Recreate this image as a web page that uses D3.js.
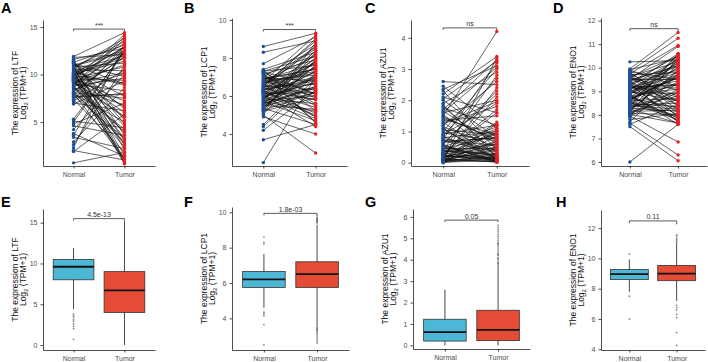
<!DOCTYPE html>
<html lang="en">
<head>
<meta charset="UTF-8">
<title>Paired and box plots</title>
<script src="https://d3js.org/d3.v7.min.js"></script>
<style>
  body { margin: 0; background: #fff; }
  svg { display: block; font-family: "Liberation Sans", Arial, sans-serif; }
  .axis path, .axis line { stroke: #222; stroke-width: 0.8; }
  .axis text { fill: #4d4d4d; font-size: 7px; }
  .ytitle { font-size: 8.5px; fill: #111; }
  .letter { font-size: 14.5px; font-weight: bold; fill: #000; }
</style>
</head>
<body>
<svg width="708" height="362"></svg>
<script>
// categories / labels
const groups = ["Normal", "Tumor"];
const genes = ["LTF", "LCP1", "AZU1", "ENO1"];
const pairSig = ["***", "***", "ns", "ns"];
const boxPval = ["4.5e-13", "1.8e-03", "0.05", "0.11"];
const letters = ["A", "B", "C", "D", "E", "F", "G", "H"];

// tick labels
const ticksLTF = [5, 10, 15];
const ticksLCP1 = [4, 6, 8, 10];
const ticksAZU1 = [0, 1, 2, 3, 4];
const ticksENO1 = [6, 7, 8, 9, 10, 11, 12];
const ticksLTFbox = [0, 5, 10, 15];
const ticksLCP1box = [4, 6, 8, 10];
const ticksAZU1box = [0, 1, 2, 3, 4, 5, 6];
const ticksENO1box = [4, 6, 8, 10, 12];

// paired samples (normal[i] <-> tumor[i])
const ltfNormal = [11.9, 11.6, 11.4, 11.3, 11.2, 11.1, 11.0, 10.9, 10.8, 10.8,
  10.7, 10.6, 10.5, 10.5, 10.4, 10.3, 10.2, 10.2, 10.1, 10.0,
  9.9, 9.9, 9.8, 9.7, 9.6, 9.6, 9.5, 9.4, 9.3, 9.2,
  9.2, 9.1, 9.0, 8.9, 8.8, 8.7, 8.6, 8.5, 8.4, 8.3,
  8.2, 8.1, 8.0, 7.9, 7.8, 7.6, 7.4, 7.2, 7.0, 6.9,
  5.3, 5.1, 4.8, 4.6, 4.2, 3.8, 3.6, 3.4, 2.9, 2.6,
  2.3, 2.0, 1.9, 0.7, 11.5, 10.9, 10.0, 9.5, 8.9, 8.1,
  11.8, 11.3, 10.7, 10.4, 10.1, 9.8, 9.7, 9.4, 9.1, 8.8,
  8.6, 8.3, 8.0, 7.7, 11.0, 10.6, 9.9, 9.3, 7.3, 5.0];
const ltfTumor = [14.4, 12.8, 5.2, 13.1, 2.1, 9.8, 12.5, 0.9, 11.2, 6.4,
  13.8, 3.0, 10.4, 7.7, 12.0, 1.5, 8.9, 11.7, 4.6, 13.3,
  2.7, 9.1, 12.9, 6.0, 0.6, 10.8, 7.2, 14.2, 3.9, 11.0,
  5.5, 12.2, 8.3, 1.2, 9.6, 4.2, 13.0, 6.8, 10.1, 2.4,
  11.9, 7.5, 5.0, 12.6, 3.3, 8.0, 1.8, 10.5, 6.2, 9.3,
  12.4, 4.4, 7.0, 3.6, 10.0, 1.4, 12.7, 2.2, 8.6, 10.9,
  13.2, 1.0, 5.8, 1.8, 3.6, 12.3, 0.8, 9.4, 14.0, 2.9,
  12.1, 4.8, 13.5, 0.7, 11.4, 6.6, 12.9, 2.6, 10.2, 13.7,
  4.0, 11.8, 1.1, 7.9, 9.0, 3.2, 12.0, 5.6, 13.0, 12.5];

const lcp1Normal = [8.6, 8.3, 7.7, 7.4, 7.35, 7.3, 7.2, 7.15, 7.1, 7.0,
  6.95, 6.9, 6.85, 6.8, 6.75, 6.7, 6.6, 6.55, 6.5, 6.45,
  6.4, 6.35, 6.3, 6.25, 6.2, 6.15, 6.1, 6.05, 6.0, 5.95,
  5.9, 5.85, 5.8, 5.75, 5.7, 5.65, 5.6, 5.55, 5.5, 5.45,
  5.4, 5.35, 5.3, 5.2, 5.1, 5.0, 4.9, 4.5, 4.4, 4.2,
  3.7, 2.5, 6.65, 6.35, 6.05, 5.75, 7.05, 6.85, 5.95, 6.5,
  7.25, 5.25, 6.2, 6.8, 5.6, 7.0, 6.4, 5.85, 6.1, 6.7,
  7.3, 7.1, 6.9, 6.75, 6.6, 6.45, 6.3, 6.15, 6.0, 5.85,
  5.7, 5.55, 5.4, 5.25, 7.2, 6.55, 6.25, 5.9, 5.5, 5.05];
const lcp1Tumor = [9.3, 8.9, 9.1, 8.3, 5.2, 7.6, 6.1, 7.9, 4.6, 8.7,
  6.8, 7.4, 5.5, 8.1, 6.3, 7.2, 4.9, 8.5, 6.6, 7.7,
  5.8, 7.0, 6.9, 8.2, 5.1, 7.5, 6.4, 4.4, 8.0, 6.7,
  7.3, 5.6, 7.8, 6.0, 4.7, 7.1, 6.5, 8.4, 5.3, 6.2,
  7.6, 4.5, 7.9, 5.9, 8.8, 3.0, 4.0, 7.2, 6.9, 6.3,
  4.5, 7.0, 8.6, 6.8, 5.0, 7.0, 6.1, 7.7, 4.8, 9.0,
  6.6, 8.3, 5.4, 7.1, 6.4, 5.9, 7.5, 8.0, 6.2, 7.3,
  8.1, 5.6, 7.4, 9.2, 6.0, 8.6, 4.9, 7.8, 6.7, 8.4,
  5.2, 7.0, 7.6, 6.2, 4.6, 8.9, 5.8, 7.3, 6.5, 7.9];

const azu1Normal = [2.6, 2.45, 2.35, 2.3, 2.2, 2.1, 2.0, 1.9, 1.8, 1.75,
  1.7, 1.65, 1.6, 1.55, 1.5, 1.4, 1.35, 1.3, 1.2, 1.15,
  1.1, 1.0, 0.95, 0.9, 0.85, 0.8, 0.75, 0.7, 0.65, 0.6,
  0.55, 0.5, 0.45, 0.4, 0.38, 0.35, 0.32, 0.3, 0.28, 0.25,
  0.22, 0.2, 0.18, 0.15, 0.12, 0.1, 0.08, 0.06, 0.05, 0.04,
  0.03, 0.02, 0.01, 0.0, 1.25, 0.72, 0.42, 0.26, 0.14, 0.07,
  1.05, 0.58, 0.33, 0.19, 0.09, 1.45, 0.88, 0.48, 0.24, 0.11,
  1.85, 1.62, 1.48, 1.28, 1.08, 0.92, 0.78, 0.62, 0.52, 0.43,
  0.36, 0.29, 0.21, 0.16, 0.13, 0.09, 0.05, 0.03, 2.05, 0.68];
const azu1Tumor = [2.5, 1.1, 3.1, 0.4, 3.4, 1.6, 0.8, 2.9, 0.3, 1.2,
  3.3, 0.6, 2.0, 0.2, 4.2, 0.9, 1.5, 0.1, 2.6, 0.5,
  0.05, 3.0, 0.7, 1.9, 0.15, 1.0, 3.2, 0.35, 0.8, 2.3,
  0.08, 1.15, 0.45, 2.8, 0.25, 0.6, 1.7, 0.12, 0.95, 0.03,
  2.1, 0.5, 0.18, 1.05, 0.02, 3.35, 0.4, 0.7, 0.1, 1.25,
  0.3, 0.06, 0.85, 0.2, 1.8, 0.55, 0.04, 0.65, 2.4, 0.15,
  0.9, 0.01, 1.1, 0.28, 0.5, 0.75, 2.7, 0.22, 0.07, 1.3,
  0.2, 3.05, 0.7, 1.95, 0.1, 1.2, 0.4, 2.2, 0.05, 0.9,
  0.3, 1.6, 0.15, 0.6, 0.02, 1.0, 0.45, 0.25, 3.25, 0.8];

const eno1Normal = [10.25, 9.95, 9.9, 9.85, 9.8, 9.75, 9.7, 9.65, 9.6, 9.55,
  9.5, 9.45, 9.4, 9.35, 9.3, 9.25, 9.2, 9.15, 9.1, 9.05,
  9.0, 8.95, 8.9, 8.85, 8.8, 8.75, 8.7, 8.65, 8.6, 8.55,
  8.5, 8.45, 8.4, 8.35, 8.3, 8.25, 8.2, 8.15, 8.1, 8.05,
  8.0, 7.95, 7.9, 7.8, 7.7, 7.65, 7.6, 7.5, 6.0, 9.62,
  9.28, 8.92, 8.58, 8.22, 9.78, 9.12, 8.68, 8.38, 9.48, 8.82,
  9.02, 8.48, 9.38, 8.12, 9.18, 8.78, 9.58, 8.28, 9.08, 8.62,
  9.92, 9.72, 9.52, 9.32, 9.12, 8.97, 8.87, 8.72, 8.52, 8.42,
  8.32, 8.18, 8.02, 7.92, 9.42, 9.22, 8.62, 8.07, 9.82, 8.88];
const eno1Tumor = [10.3, 11.5, 9.2, 11.25, 8.4, 10.95, 9.8, 7.9, 10.5, 8.8,
  9.5, 10.1, 8.1, 9.9, 7.7, 10.6, 8.6, 9.3, 10.2, 8.0,
  9.7, 8.9, 10.4, 7.6, 9.1, 10.0, 8.3, 9.6, 8.7, 10.3,
  7.8, 9.4, 8.5, 10.55, 9.0, 7.65, 9.85, 8.2, 10.15, 8.95,
  9.35, 6.85, 10.45, 8.05, 9.75, 6.3, 8.45, 6.05, 7.6, 10.25,
  8.75, 9.55, 7.95, 10.35, 8.55, 9.15, 9.65, 8.25, 10.05, 7.75,
  9.45, 8.35, 10.5, 8.65, 9.25, 7.85, 9.05, 8.15, 10.1, 9.6,
  10.4, 8.2, 10.9, 7.7, 9.8, 8.6, 10.2, 9.3, 7.9, 10.6,
  8.8, 9.9, 7.65, 9.1, 8.4, 10.35, 9.7, 8.0, 9.5, 10.0];

// box summaries: [lower whisker, q1, median, q3, upper whisker]
const ltfBoxNormal = [4.4, 8.0, 9.6, 10.5, 11.9];
const ltfBoxTumor = [0.0, 4.0, 6.7, 9.0, 15.2];
const ltfOutNormal = [3.8, 3.6, 3.4, 3.1, 2.9, 2.6, 2.3, 2.0, 0.7];
const ltfOutTumor = [];

const lcp1BoxNormal = [4.6, 5.75, 6.2, 6.65, 7.65];
const lcp1BoxTumor = [3.55, 5.75, 6.5, 7.2, 9.3];
const lcp1OutNormal = [8.6, 8.3, 8.2, 4.35, 4.25, 4.15, 3.65, 2.5];
const lcp1OutTumor = [9.4, 9.45, 9.5, 9.55, 9.6, 9.65, 9.7, 9.8,
  3.5, 3.45, 3.4, 3.35, 3.3, 3.2, 3.1, 3.0, 2.9, 2.8, 2.7, 2.6];

const azu1BoxNormal = [0.0, 0.2, 0.62, 1.22, 2.6];
const azu1BoxTumor = [0.0, 0.22, 0.72, 1.64, 3.76];
const azu1OutNormal = [];
const azu1OutTumor = [3.8, 3.85, 3.9, 4.0, 4.05, 4.1, 4.2, 4.25, 4.3, 4.4,
  4.5, 4.6, 4.7, 4.75, 4.8, 4.9, 5.0, 5.1, 5.2, 5.3, 5.4, 5.5, 5.6];

const eno1BoxNormal = [7.8, 8.6, 8.96, 9.27, 9.93];
const eno1BoxTumor = [7.2, 8.53, 9.0, 9.54, 11.05];
const eno1OutNormal = [10.3, 7.5, 6.0];
const eno1OutTumor = [12.3, 11.55, 11.45, 11.3, 11.2, 11.1, 6.9, 6.75, 6.6, 6.3, 6.1, 5.1, 4.25];

const svg = d3.select("svg");

// panel frames: axis x position, width, top/bottom pixel, value domain
const pairPanels = [
  { x0: 43, w: 112, y0: 20, y1: 166, dom: [0.37, 15.74], ticks: ticksLTF, n: ltfNormal, t: ltfTumor, lx: 1, ly: 13 },
  { x0: 232, w: 115, y0: 18, y1: 166, dom: [2.32, 10.1], ticks: ticksLCP1, n: lcp1Normal, t: lcp1Tumor, lx: 184, ly: 13 },
  { x0: 411, w: 118, y0: 20, y1: 166, dom: [-0.106, 4.57], ticks: ticksAZU1, n: azu1Normal, t: azu1Tumor, lx: 365, ly: 13 },
  { x0: 601, w: 106, y0: 18, y1: 166, dom: [5.83, 12.11], ticks: ticksENO1, n: eno1Normal, t: eno1Tumor, lx: 553, ly: 13 }
];
const boxPanels = [
  { x0: 43, w: 112, y0: 209, y1: 350, dom: [-0.61, 16.68], ticks: ticksLTFbox, bn: ltfBoxNormal, bt: ltfBoxTumor, on: ltfOutNormal, ot: ltfOutTumor, bracket: 15.5, lx: 1, ly: 207 },
  { x0: 232, w: 117, y0: 207, y1: 350, dom: [2.21, 10.3], ticks: ticksLCP1box, bn: lcp1BoxNormal, bt: lcp1BoxTumor, on: lcp1OutNormal, ot: lcp1OutTumor, bracket: 9.94, lx: 184, ly: 207 },
  { x0: 413, w: 117, y0: 209, y1: 349, dom: [-0.17, 6.37], ticks: ticksAZU1box, bn: azu1BoxNormal, bt: azu1BoxTumor, on: azu1OutNormal, ot: azu1OutTumor, bracket: 5.85, lx: 365, ly: 207 },
  { x0: 601, w: 104, y0: 210, y1: 350, dom: [3.95, 13.2], ticks: ticksENO1box, bn: eno1BoxNormal, bt: eno1BoxTumor, on: eno1OutNormal, ot: eno1OutTumor, bracket: 12.48, lx: 556, ly: 207 }
];

function frame(p, gene, letter) {
  const x = d3.scalePoint().domain(groups).range([p.x0, p.x0 + p.w]).padding(0.6);
  const y = d3.scaleLinear().domain(p.dom).range([p.y1, p.y0]);
  const g = svg.append("g");

  g.append("g").attr("class", "axis")
    .attr("transform", `translate(${p.x0},0)`)
    .call(d3.axisLeft(y).tickValues(p.ticks).tickFormat(d3.format("d"))
      .tickSize(2.5).tickSizeOuter(0).tickPadding(3));
  g.append("g").attr("class", "axis")
    .attr("transform", `translate(0,${p.y1})`)
    .call(d3.axisBottom(x).tickSize(2.5).tickSizeOuter(0).tickPadding(4));

  // y title, two lines
  const cy = (p.y0 + p.y1) / 2;
  g.append("text").attr("class", "ytitle")
    .attr("transform", `translate(${p.x0 - 25},${cy}) rotate(-90)`)
    .attr("text-anchor", "middle")
    .text("The expression of " + gene);
  const t2 = g.append("text").attr("class", "ytitle")
    .attr("transform", `translate(${p.x0 - 17.5},${cy}) rotate(-90)`)
    .attr("text-anchor", "middle");
  t2.append("tspan").text("Log");
  t2.append("tspan").attr("font-size", "6px").attr("dy", 2).text("2");
  t2.append("tspan").attr("dy", -2).text(" (TPM+1)");

  g.append("text").attr("class", "letter").attr("x", p.lx).attr("y", p.ly).text(letter);
  return { g, x, y };
}

function bracket(g, x, y, v, label) {
  const by = y(v);
  const xa = x("Normal"), xb = x("Tumor");
  g.append("path")
    .attr("d", `M${xa},${by + 2}V${by}H${xb}V${by + 2}`)
    .attr("fill", "none").attr("stroke", "#333").attr("stroke-width", 0.8);
  g.append("text")
    .attr("x", (xa + xb) / 2).attr("y", by - 1.5)
    .attr("text-anchor", "middle").attr("font-size", "7px").attr("fill", "#333")
    .text(label);
}

pairPanels.forEach((p, i) => {
  const { g, x, y } = frame(p, genes[i], letters[i]);
  const pairs = d3.zip(p.n, p.t);
  g.append("g").selectAll("line").data(pairs).join("line")
    .attr("x1", x("Normal")).attr("x2", x("Tumor"))
    .attr("y1", d => y(d[0])).attr("y2", d => y(d[1]))
    .attr("stroke", "#111").attr("stroke-width", 0.65);
  g.append("g").selectAll("circle").data(p.n).join("circle")
    .attr("cx", x("Normal")).attr("cy", d => y(d)).attr("r", 1.7)
    .attr("fill", "#1d4f96");
  g.append("g").selectAll("circle").data(p.t).join("circle")
    .attr("cx", x("Tumor")).attr("cy", d => y(d)).attr("r", 1.7)
    .attr("fill", "#ee1d23");
  const top = d3.max(p.n.concat(p.t));
  bracket(g, x, y, top + (p.dom[1] - p.dom[0]) * 0.025, pairSig[i]);
});

const fills = { Normal: "#4db8d6", Tumor: "#e54b35" };

boxPanels.forEach((p, i) => {
  const { g, x, y } = frame(p, genes[i], letters[i + 4]);
  const bw = x.step() * 0.8;
  const boxes = [["Normal", p.bn, p.on], ["Tumor", p.bt, p.ot]];
  boxes.forEach(([grp, s, outs]) => {
    const cx = x(grp);
    g.append("line").attr("x1", cx).attr("x2", cx)
      .attr("y1", y(s[0])).attr("y2", y(s[4]))
      .attr("stroke", "#333").attr("stroke-width", 0.9);
    g.append("rect")
      .attr("x", cx - bw / 2).attr("width", bw)
      .attr("y", y(s[3])).attr("height", y(s[1]) - y(s[3]))
      .attr("fill", fills[grp]).attr("stroke", "#333").attr("stroke-width", 0.8);
    g.append("line").attr("x1", cx - bw / 2).attr("x2", cx + bw / 2)
      .attr("y1", y(s[2])).attr("y2", y(s[2]))
      .attr("stroke", "#111").attr("stroke-width", 1.8);
    g.append("g").selectAll("circle").data(outs).join("circle")
      .attr("cx", cx).attr("cy", d => y(d)).attr("r", 0.9)
      .attr("fill", "#555").attr("opacity", 0.7);
  });
  bracket(g, x, y, p.bracket, boxPval[i]);
});
</script>
</body>
</html>
